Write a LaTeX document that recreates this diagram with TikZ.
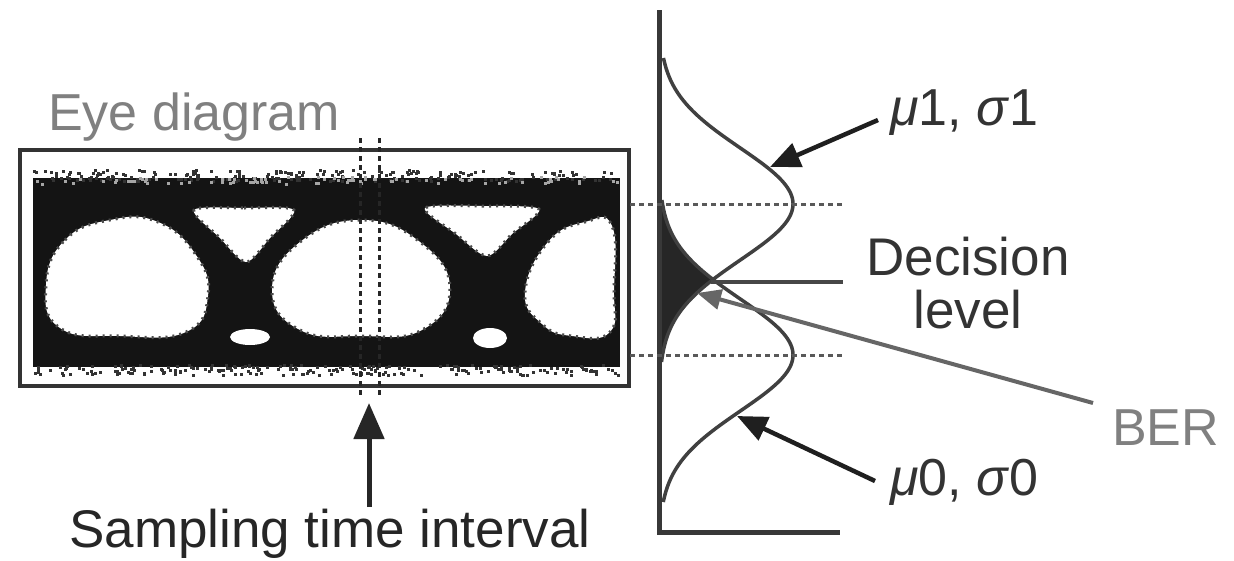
\documentclass[tikz,border=0pt]{standalone}
\usepackage{fontspec}
\setmainfont{Liberation Sans}
\usetikzlibrary{arrows.meta}
\begin{document}
\begin{tikzpicture}[x=1pt,y=-1pt,
  lbl/.style={inner sep=0pt, anchor=base west, font=\fontsize{52}{60}\selectfont},
  ptr/.style={line width=4.5pt, draw=black!88, -{Triangle[length=30pt,width=25pt]}},
  dashline/.style={line width=3pt, draw=black!65, dash pattern=on 5pt off 4pt},
  curve/.style={line width=3.5pt, draw=black!75},
  axis/.style={line width=5pt, draw=black!78},
  eyehole/.style={fill=white},
  fuzz/.style={draw=black!70, line width=3pt, dash pattern=on 2pt off 5pt}
]
\useasboundingbox (0,0) rectangle (1234,560);
\fill[white] (0,0) rectangle (1234,560);

% ---------- eye pattern ----------
\fill[black!92] (33,178) rectangle (620,367);
% eye openings
\fill[eyehole] plot[smooth cycle, tension=0.8] coordinates {(46,285) (65,240) (110,220) (158,222) (196,255) (208,296) (186,332) (120,336) (60,328)};
\fill[eyehole] plot[smooth cycle, tension=0.8] coordinates {(272,290) (300,242) (361,220) (420,242) (450,288) (422,330) (361,336) (300,330)};
\fill[eyehole] plot[smooth cycle, tension=0.8] coordinates {(525,292) (548,242) (585,222) (612,226) (614,290) (610,332) (572,336) (542,324)};
% upper triangles
\fill[eyehole] plot[smooth cycle, tension=0.5] coordinates {(194,210) (244,208) (294,210) (270,238) (246,262) (220,238)};
\fill[eyehole] plot[smooth cycle, tension=0.5] coordinates {(425,208) (482,206) (539,209) (512,234) (487,256) (456,234)};
% lower small holes
\fill[eyehole] (250,337) ellipse [x radius=20, y radius=8];
\fill[eyehole] (490,338) ellipse [x radius=17, y radius=10];
% grainy hole edges
\draw[fuzz] plot[smooth cycle, tension=0.8] coordinates {(46,285) (65,240) (110,220) (158,222) (196,255) (208,296) (186,332) (120,336) (60,328)};
\draw[fuzz] plot[smooth cycle, tension=0.8] coordinates {(272,290) (300,242) (361,220) (420,242) (450,288) (422,330) (361,336) (300,330)};
\draw[fuzz] plot[smooth cycle, tension=0.8] coordinates {(525,292) (548,242) (585,222) (612,226) (614,290) (610,332) (572,336) (542,324)};
\draw[fuzz] plot[smooth cycle, tension=0.5] coordinates {(194,210) (244,208) (294,210) (270,238) (246,262) (220,238)};
\draw[fuzz] plot[smooth cycle, tension=0.5] coordinates {(425,208) (482,206) (539,209) (512,234) (487,256) (456,234)};
% noise on band edges
\pgfmathsetseed{7}
\foreach \i in {1,...,220}{
  \pgfmathsetmacro{\xx}{33+585*rnd}
  \pgfmathsetmacro{\yy}{169+11*rnd}
  \fill[black!80] (\xx,\yy) rectangle ++(3,3);
}
\foreach \i in {1,...,220}{
  \pgfmathsetmacro{\xx}{33+585*rnd}
  \pgfmathsetmacro{\yy}{364+10*rnd}
  \fill[black!80] (\xx,\yy) rectangle ++(3,3);
}
\foreach \i in {1,...,90}{
  \pgfmathsetmacro{\xx}{33+585*rnd}
  \pgfmathsetmacro{\yy}{176+7*rnd}
  \fill[black!35] (\xx,\yy) rectangle ++(3,3);
}

% frame
\node[draw=black!80, line width=3.5pt, minimum width=609pt, minimum height=236pt, inner sep=0pt] (eyebox) at (324.5,268) {};

% sampling interval
\coordinate (s1top) at (360,138);
\coordinate (s1bot) at (360,398);
\coordinate (s2top) at (379,138);
\coordinate (s2bot) at (379,398);
\draw[dashline, draw=black!85] (s1top) -- (s1bot);
\draw[dashline, draw=black!85] (s2top) -- (s2bot);

% labels left
\node[lbl, text=black!50] (eyelbl) at (48,130) {Eye diagram};
\node[lbl, text=black!85, font=\fontsize{53}{60}\selectfont] (samplbl) at (69,547) {Sampling time interval};
\coordinate (sampTip) at (369,403);
\coordinate (sampTail) at (369,507);
\draw[line width=5pt, draw=black!85, -{Triangle[length=36pt,width=30pt]}] (sampTail) -- (sampTip);

% ---------- distributions ----------
\coordinate (axTop) at (659,10);
\coordinate (orig) at (659,532);
\coordinate (axEnd) at (840,532);

% overlap (BER) region
\fill[black!85] (659,196)
  -- plot[domain=196:281.5, samples=40, variable=\t] ({659+134*exp(-0.5*((\t-355)/56)*((\t-355)/56))},\t)
  -- plot[domain=281.5:364, samples=40, variable=\t] ({659+134*exp(-0.5*((\t-204)/56)*((\t-204)/56))},\t)
  -- (659,364) -- cycle;

\draw[curve] plot[domain=58:362, samples=120, variable=\t] ({659+134*exp(-0.5*((\t-204)/56)*((\t-204)/56))},\t);
\draw[curve] plot[domain=200:502, samples=120, variable=\t] ({659+134*exp(-0.5*((\t-355)/56)*((\t-355)/56))},\t);

\draw[axis] (axTop) -- (orig) -- (axEnd);

% mean levels
\coordinate (m1a) at (630,204);
\coordinate (m1b) at (842,204);
\coordinate (m0a) at (630,355);
\coordinate (m0b) at (842,355);
\draw[dashline] (m1a) -- (m1b);
\draw[dashline] (m0a) -- (m0b);

% decision level
\coordinate (cross) at (711,281.5);
\coordinate (decEnd) at (843,281.5);
\draw[line width=4pt, draw=black!72] (cross) -- (decEnd);

% BER pointer
\coordinate (berTip) at (697,293);
\coordinate (berEnd) at (1093,403);
\draw[line width=4pt, draw=black!60, {Triangle[length=24pt,width=20pt]}-] (berTip) -- (berEnd);

% labels right
\node[lbl, text=black!80] (mu1) at (890,125) {\textit{μ}1, \textit{σ}1};
\node[lbl, text=black!80] (mu0) at (890,495) {\textit{μ}0, \textit{σ}0};
\node[lbl, text=black!80, anchor=base, font=\fontsize{53}{60}\selectfont] (dec1) at (968,275) {Decision};
\node[lbl, text=black!80, anchor=base, font=\fontsize{53}{60}\selectfont] (dec2) at (968,328) {level};
\node[lbl, text=black!50] (ber) at (1112,445) {BER};

\coordinate (p1tip) at (770,167);
\coordinate (p1tail) at (878,120);
\coordinate (p0tip) at (737,416);
\coordinate (p0tail) at (875,481);
\draw[ptr] (p1tail) -- (p1tip);
\draw[ptr] (p0tail) -- (p0tip);
\end{tikzpicture}
\end{document}
